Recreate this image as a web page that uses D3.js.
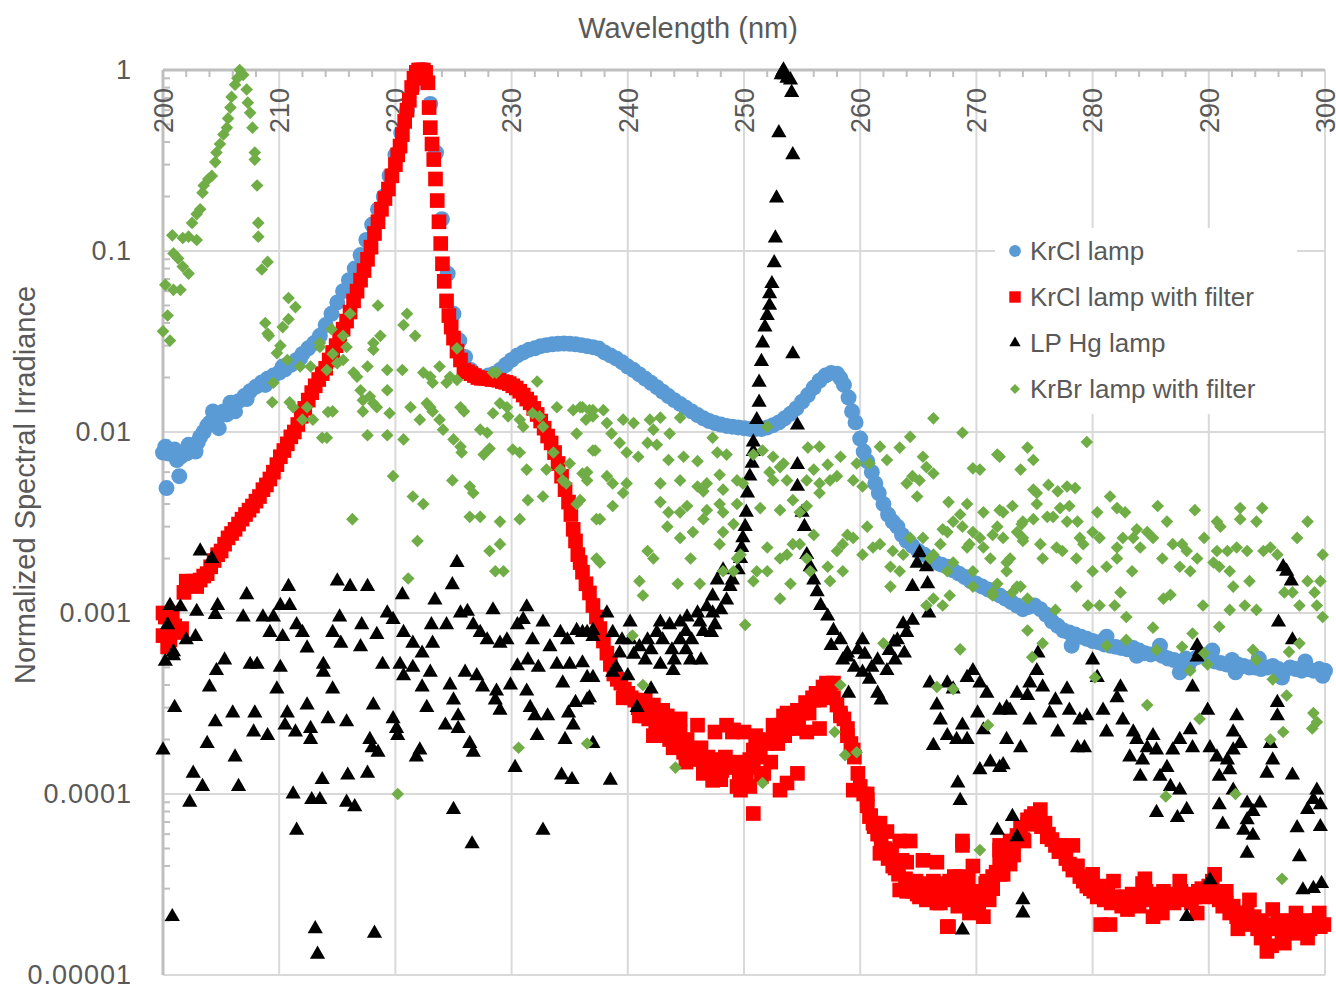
<!DOCTYPE html>
<html>
<head>
<meta charset="utf-8">
<script src="https://cdn.jsdelivr.net/npm/d3@7"></script>
<style>
body { margin: 0; background: #fff; }
svg { display: block; }
text { font-family: "Liberation Sans", Arial, sans-serif; fill: #595959; }
</style>
</head>
<body>
<svg id="chart" width="1336" height="988"></svg>
<script>
// [wavelength nm, normalized irradiance]
var krclLamp = [[200,7.7e-3],[200.2,8.3e-3],[200.3,4.9e-3],[200.5,7.6e-3],[201,8e-3],[201.2,7e-3],[201.4,5.7e-3],[201.5,7.3e-3],[202,7.6e-3],[202.2,8.5e-3],[202.5,8.3e-3],[202.8,7.8e-3],[203,8.8e-3],[203.2,9.4e-3],[203.5,1e-2],[203.8,1.08e-2],[204,1.12e-2],[204.3,1.3e-2],[204.5,1.22e-2],[204.8,1.05e-2],[205,1.25e-2],[205.2,1.3e-2],[205.5,1.25e-2],[205.8,1.45e-2],[206,1.38e-2],[206.2,1.3e-2],[206.5,1.48e-2],[207,1.58e-2],[207.2,1.52e-2],[207.5,1.68e-2],[208,1.78e-2],[208.5,1.88e-2],[208.8,1.82e-2],[209,1.97e-2],[209.5,2.05e-2],[210,2.13e-2],[210.3,2.3e-2],[210.5,2.22e-2],[211,2.35e-2],[211.5,2.5e-2],[211.8,2.55e-2],[212,2.7e-2],[212.5,2.9e-2],[213,3.1e-2],[213.5,3.4e-2],[214,3.9e-2],[214.5,4.5e-2],[215,5.2e-2],[215.5,6e-2],[216,6.9e-2],[216.5,8e-2],[217,9.5e-2],[217.5,0.115],[218,0.14],[218.5,0.17],[219,0.2],[219.5,0.26],[220,0.34],[220.5,0.45],[221,0.6],[221.5,0.8],[222,0.98],[222.3,1],[222.6,0.9],[223,0.65],[223.5,0.35],[224,0.15],[224.5,0.075],[225,0.045],[225.5,0.032],[226,0.026],[226.5,0.022],[227,0.0205],[227.5,0.02],[228,0.0205],[228.5,0.021],[229,0.022],[229.5,0.0235],[230,0.025],[230.5,0.0265],[231,0.0275],[231.5,0.0285],[232,0.029],[232.5,0.0298],[233,0.0302],[233.5,0.0305],[234,0.0307],[234.5,0.0308],[235,0.0307],[235.5,0.0305],[236,0.0302],[236.5,0.0298],[237,0.0294],[237.5,0.0289],[238,0.0275],[238.5,0.0265],[239,0.0255],[239.5,0.0243],[240,0.023],[240.5,0.022],[241,0.0208],[241.5,0.0197],[242,0.0187],[242.5,0.0177],[243,0.0167],[243.5,0.0158],[244,0.015],[244.5,0.0143],[245,0.0136],[245.5,0.013],[246,0.0124],[246.5,0.0119],[247,0.0115],[247.5,0.0112],[248,0.011],[248.5,0.0108],[249,0.0107],[249.5,0.0106],[250,0.0105],[250.5,0.0104],[251,0.0104],[251.5,0.0104],[252,0.0106],[252.5,0.0109],[253,0.0113],[253.5,0.0119],[254,0.0126],[254.5,0.0135],[255,0.0147],[255.5,0.016],[256,0.0176],[256.5,0.0192],[257,0.0205],[257.5,0.0212],[258,0.021],[258.3,0.0198],[258.6,0.0182],[259,0.0155],[259.3,0.013],[259.6,0.0113],[260,0.0092],[260.3,0.0078],[260.6,0.0069],[261,0.006],[261.3,0.0052],[261.6,0.0046],[262,0.004],[262.4,0.0035],[262.8,0.0032],[263.2,0.003],[263.6,0.0027],[264,0.0025],[264.5,0.00235],[265,0.0022],[265.5,0.0021],[266,0.002],[266.5,0.0019],[267,0.00185],[267.5,0.0018],[268,0.00172],[268.5,0.00165],[269,0.00158],[269.5,0.0015],[270,0.00145],[270.5,0.0014],[271,0.00135],[271.5,0.0013],[272,0.00125],[272.5,0.0012],[273,0.00115],[273.5,0.0011],[274,0.00105],[274.5,0.00108],[275,0.0011],[275.5,0.00105],[276,0.00098],[276.5,0.0009],[277,0.00085],[277.5,0.0008],[278,0.00078],[278.2,0.00066],[278.5,0.00076],[279,0.00074],[279.5,0.00072],[280,0.0007],[280.5,0.00069],[281,0.00067],[281.2,0.00074],[281.5,0.00066],[282,0.00065],[282.5,0.00064],[283,0.00063],[283.5,0.00064],[283.8,0.00058],[284,0.00062],[284.5,0.0006],[285,0.00059],[285.5,0.0006],[285.8,0.00066],[286,0.00058],[286.5,0.00056],[287,0.00055],[287.5,0.00047],[287.7,0.00054],[288,0.00056],[288.2,0.0005],[288.5,0.00055],[289,0.00057],[289.5,0.00058],[290,0.00055],[290.3,0.00062],[290.5,0.00054],[291,0.00053],[291.5,0.00052],[292,0.00055],[292.3,0.00047],[292.5,0.00052],[293,0.00051],[293.5,0.0005],[294,0.0005],[294.3,0.00056],[294.5,0.00049],[295,0.0005],[295.5,0.00051],[296,0.00049],[296.3,0.00044],[296.5,0.00048],[297,0.0005],[297.5,0.00049],[298,0.00048],[298.3,0.00054],[298.5,0.00049],[299,0.00048],[299.5,0.00049],[299.8,0.00045],[300,0.00048]];

var krclFiltered = [[200,1e-3],[200,7.5e-4],[200.2,9.5e-4],[200.4,6.5e-4],[200.6,7.1e-4],[200.8,1e-3],[201,8.5e-4],[201.3,7.8e-4],[201.6,8.2e-4],[201.8,1.3e-3],[202,1.5e-3],[202.3,1.45e-3],[202.6,1.5e-3],[202.9,1.4e-3],[203.2,1.52e-3],[203.5,1.6e-3],[203.8,1.65e-3],[204.1,1.8e-3],[204.4,1.95e-3],[204.7,2.1e-3],[205,2.2e-3],[205.3,2.4e-3],[205.6,2.6e-3],[205.9,2.75e-3],[206.2,2.9e-3],[206.5,3.1e-3],[206.8,3.3e-3],[207.1,3.5e-3],[207.4,3.7e-3],[207.7,3.9e-3],[208,4.15e-3],[208.3,4.4e-3],[208.6,4.8e-3],[208.9,5.1e-3],[209.2,5.5e-3],[209.5,6e-3],[209.8,6.6e-3],[210.1,7.3e-3],[210.4,7.9e-3],[210.7,8.6e-3],[211,9.4e-3],[211.3,1e-2],[211.6,1.1e-2],[211.9,1.22e-2],[212.2,1.35e-2],[212.5,1.5e-2],[212.8,1.65e-2],[213.1,1.8e-2],[213.4,1.95e-2],[213.7,2.1e-2],[214,2.25e-2],[214.3,2.5e-2],[214.6,2.75e-2],[214.9,3e-2],[215.2,3.3e-2],[215.5,3.7e-2],[215.8,4.1e-2],[216.1,4.6e-2],[216.4,5.3e-2],[216.7,6e-2],[217,6.9e-2],[217.3,7.8e-2],[217.6,9e-2],[217.9,0.105],[218.2,0.125],[218.5,0.145],[218.8,0.17],[219.1,0.195],[219.4,0.22],[219.7,0.26],[220,0.3],[220.2,0.34],[220.4,0.38],[220.6,0.44],[220.8,0.52],[221,0.6],[221.2,0.68],[221.4,0.8],[221.6,0.9],[221.8,0.97],[222,1],[222.2,1],[222.4,1],[222.6,0.97],[222.8,0.85],[222.9,0.62],[223,0.48],[223.15,0.39],[223.3,0.32],[223.45,0.25],[223.6,0.19],[223.75,0.145],[223.9,0.11],[224.05,0.085],[224.2,0.068],[224.4,0.053],[224.6,0.044],[224.8,0.038],[225,0.033],[225.3,0.028],[225.6,0.025],[225.9,0.022],[226.2,0.0215],[226.5,0.021],[226.8,0.0205],[227.1,0.02],[227.4,0.0198],[227.7,0.0198],[228,0.0197],[228.3,0.0195],[228.6,0.0195],[228.9,0.0193],[229.2,0.019],[229.5,0.0188],[229.8,0.0185],[230.1,0.018],[230.4,0.0175],[230.7,0.0168],[231,0.016],[231.3,0.0152],[231.6,0.0145],[231.9,0.0135],[232.2,0.0125],[232.5,0.0115],[232.8,0.0105],[233.1,0.0095],[233.4,0.0087],[233.7,0.0077],[234,0.0067],[234.3,0.0057],[234.6,0.0048],[234.9,0.0041],[235.1,0.0035],[235.3,0.0029],[235.5,0.0025],[235.7,0.0021],[235.9,0.0019],[236.1,0.00168],[236.4,0.00145],[236.7,0.00129],[237,0.0011],[237.3,0.00095],[237.6,0.00082],[237.9,0.0007],[238.2,0.0006],[238.5,0.00052],[238.8,0.00046],[239.1,0.00043],[239.4,0.00041],[239.7,0.00038],[240,0.00036],[240.3,0.00034],[240.6,0.00033],[240.9,0.0003],[241.2,0.00028],[241.5,0.00027],[241.8,2.6e-4],[242.1,2.9e-4],[242.4,2.3e-4],[242.7,2.5e-4],[243,2.1e-4],[243.3,2.4e-4],[243.6,2e-4],[243.9,1.8e-4],[244.2,2.2e-4],[244.5,1.9e-4],[244.8,1.7e-4],[245.1,2e-4],[245.4,1.6e-4],[245.7,1.75e-4],[246,1.55e-4],[246.3,1.8e-4],[246.6,1.45e-4],[246.9,1.6e-4],[247.2,1.4e-4],[247.5,1.55e-4],[247.8,1.5e-4],[248.1,1.35e-4],[248.4,1.6e-4],[248.7,1.4e-4],[249,2.2e-4],[249.3,1.5e-4],[249.6,1.3e-4],[249.9,1.45e-4],[250.2,1.25e-4],[250.5,1.55e-4],[250.8,7.8e-5],[250.8,1.4e-4],[251.1,1.6e-4],[251.4,1.75e-4],[251.7,1.3e-4],[252,1.9e-4],[252.3,1.5e-4],[252.6,2.2e-4],[252.9,1.9e-4],[253.2,2.4e-4],[253.5,2.1e-4],[253.8,2.3e-4],[254.1,2.6e-4],[254.4,2.3e-4],[254.7,2.5e-4],[255,2.8e-4],[255.3,3.2e-4],[255.6,2.8e-4],[255.9,3.4e-4],[256.2,3.6e-4],[256.5,3.3e-4],[256.8,3.9e-4],[257.1,4.1e-4],[257.4,3.6e-4],[257.7,3.4e-4],[258,3.1e-4],[258.3,2.8e-4],[258.6,2.6e-4],[258.9,2.3e-4],[259.2,1.9e-4],[259.5,1.6e-4],[259.8,1.3e-4],[260,1.1e-4],[260.3,1e-4],[260.6,8.6e-5],[260.9,7.6e-5],[261.2,6.6e-5],[261.5,6e-5],[261.8,5.3e-5],[262.1,5e-5],[262.4,4.4e-5],[262.7,4.6e-5],[263,3.9e-5],[263.3,3.6e-5],[263.6,4.3e-5],[263.9,3.4e-5],[264.2,3.1e-5],[264.3,5.5e-5],[264.5,2.9e-5],[264.8,3.3e-5],[265.1,2.7e-5],[265.4,3e-5],[265.7,2.6e-5],[266,2.9e-5],[266.3,3.3e-5],[266.6,2.5e-5],[266.9,3.1e-5],[267.2,2.7e-5],[267.5,1.85e-5],[267.5,3.2e-5],[267.8,2.6e-5],[268.1,3.5e-5],[268.4,2.4e-5],[268.7,3e-5],[268.8,5.5e-5],[269,2.7e-5],[269.3,3.4e-5],[269.6,2.5e-5],[269.9,2.9e-5],[270.2,2.3e-5],[270.5,2.7e-5],[270.8,3.2e-5],[271.1,2.6e-5],[271.4,3e-5],[271.7,3.7e-5],[272,4.3e-5],[272,4.9e-5],[272.3,3.6e-5],[272.6,4.8e-5],[272.9,5.5e-5],[273.2,4.6e-5],[273.5,5.9e-5],[273.8,6.5e-5],[274.1,5.5e-5],[274.4,6.8e-5],[274.7,7.5e-5],[275,7.8e-5],[275.3,7.2e-5],[275.6,6.6e-5],[275.9,6.9e-5],[276.2,6e-5],[276.5,5.6e-5],[276.8,5.2e-5],[277.1,4.8e-5],[277.4,5e-5],[277.7,4.4e-5],[278,4.1e-5],[278.3,3.8e-5],[278.6,4e-5],[278.9,3.5e-5],[279.2,3.3e-5],[279.5,3.1e-5],[279.8,3e-5],[280.1,2.9e-5],[280.4,2.7e-5],[280.7,1.9e-5],[280.7,2.8e-5],[281,2.6e-5],[281.3,2.8e-5],[281.6,2.5e-5],[281.9,2.7e-5],[282.2,2.6e-5],[282.5,2.4e-5],[282.8,2.7e-5],[283.1,2.5e-5],[283.4,2.8e-5],[283.7,2.6e-5],[284,2.4e-5],[284.3,2.7e-5],[284.6,2.9e-5],[284.9,2.6e-5],[285.2,2.8e-5],[285.5,2.4e-5],[285.8,2.7e-5],[286.1,2.9e-5],[286.4,2.6e-5],[286.7,2.8e-5],[287,2.5e-5],[287.3,2.7e-5],[287.6,2.9e-5],[287.9,2.6e-5],[288.2,2.8e-5],[288.5,2.5e-5],[288.8,2.7e-5],[289.1,2.9e-5],[289.4,3e-5],[289.7,2.7e-5],[290,3.1e-5],[290.3,3.3e-5],[290.6,2.8e-5],[290.9,2.6e-5],[291.2,2.4e-5],[291.5,2.5e-5],[291.8,2.2e-5],[292.1,2.4e-5],[292.4,2.1e-5],[292.7,2.2e-5],[293,2e-5],[293.3,2.2e-5],[293.6,1.9e-5],[293.9,2.1e-5],[294.2,1.8e-5],[294.5,2e-5],[294.8,1.7e-5],[295.1,1.9e-5],[295.4,1.45e-5],[295.7,1.8e-5],[296,2e-5],[296.3,1.7e-5],[296.6,1.9e-5],[296.9,1.8e-5],[297.2,2e-5],[297.5,1.7e-5],[297.8,1.9e-5],[298.1,1.8e-5],[298.4,2e-5],[298.7,1.8e-5],[299,1.9e-5],[299.3,2e-5],[299.6,1.85e-5],[299.9,1.9e-5],
  [239.6,3.4e-4],[241,2.7e-4],[241.5,3.3e-4],[242.2,3.1e-4],[242.2,2.1e-4],[243,2.9e-4],[243.4,2.7e-4],[244.5,2.6e-4],[244.5,2.2e-4],[245,1.5e-4],[245.4,1.75e-4],[246,2.4e-4],[246.5,1.3e-4],[246.8,1.36e-4],[247.3,1.19e-4],[247.5,2.2e-4],[248,1.2e-4],[248.5,2.4e-4],[249.1,2.26e-4],[249.4,1.1e-4],[249.7,1.05e-4],[250,2.2e-4],[250.5,1.1e-4],[250.8,1.75e-4],[251,2.1e-4],[251.5,1.25e-4],[252,2e-4],[252.5,2.4e-4],[253.1,1.05e-4],[253.4,2.7e-4],[253.7,1.15e-4],[253.7,2.8e-4],[254.6,1.3e-4],[254.6,2.9e-4],[255.4,2.2e-4],[256,3.3e-4],[256.5,2.3e-4],[257.7,4.1e-4],[258.3,2.7e-4],[258.9,2.1e-4],[259.4,1.75e-4],[259.4,1.05e-4],[260.6,1e-4],[260.6,9.3e-5],[260.8,7.5e-5],[261.1,6.9e-5],[261.7,6.9e-5],[261.7,4.7e-5],[262.3,6.2e-5],[262.3,4.9e-5],[262.8,4e-5],[263.4,5.5e-5],[263.4,2.95e-5],[264,4.2e-5],[264,2.9e-5],[264.5,3.2e-5],[264.9,2.8e-5],[265.4,4.3e-5],[266,3.2e-5],[266.6,4.2e-5],[266.6,2.6e-5],[266.9,2.5e-5],[267.6,1.85e-5],[267.7,3.3e-5],[268,2.7e-5],[268.6,3.5e-5],[268.8,5.2e-5],[269.4,2.2e-5],[269.4,2.5e-5],[269.7,4e-5],[270.6,2.1e-5],[270.9,3.3e-5],[271.4,3.5e-5],[272,5.2e-5],[272,3.6e-5],[272.9,4.1e-5],[273.1,4.9e-5],[273.5,5.6e-5],[274,5.6e-5],[274.4,7.2e-5],[275.5,8.2e-5],[276.1,5.8e-5],[277.2,5.2e-5],[278.3,5.2e-5],[278.7,4e-5],[280,3.6e-5],[280.6,3.1e-5],[281.5,1.9e-5],[281.8,3.3e-5],[282.4,2.7e-5],[283,2.3e-5],[284.3,3.2e-5],[284.5,3.4e-5],[285.2,2.1e-5],[286,2.2e-5],[287.5,3.3e-5],[289,2.2e-5],[290.5,3.6e-5],[291.5,2.9e-5],[292.5,1.8e-5],[293.5,2.6e-5],[294.5,1.6e-5],[295,1.35e-5],[295.5,2.3e-5],[296.5,1.5e-5],[297.5,2.2e-5],[298.5,1.6e-5],[299.5,2.2e-5]];

var lpHgLamp = [[200,1.75e-4],[200.2,5.4e-4],[200.4,8.6e-4],[200.6,1.1e-3],[200.8,2.1e-5],[200.9,6.1e-4],[200.9,5.8e-4],[201,3e-4],[201.5,1.08e-3],[202,7.1e-4],[202.3,9e-5],[202.6,1.3e-4],[202.8,7.4e-4],[202.9,1.02e-3],[203.2,2.2e-3],[203.4,1.1e-4],[203.8,1.9e-4],[204,3.9e-4],[204.2,2e-3],[204.5,9.8e-4],[204.5,2.5e-4],[204.6,4.8e-4],[204.7,1.1e-3],[205.3,5.5e-4],[206,2.8e-4],[206.2,1.6e-4],[206.5,1.1e-4],[206.9,9.5e-4],[207.2,1.26e-3],[207.5,5.2e-4],[207.8,2.2e-4],[207.9,2.8e-4],[208.1,5.2e-4],[208.6,9.5e-4],[209,2.1e-4],[209.2,7.8e-4],[209.5,9.5e-4],[209.8,3.8e-4],[210.1,1.1e-3],[210.1,5e-4],[210.3,7.4e-4],[210.5,2.4e-4],[210.7,2.8e-4],[210.8,1.4e-3],[210.9,1.1e-3],[211.2,1e-4],[211.4,2.2e-4],[211.5,8.6e-4],[211.5,6.3e-5],[212,7.8e-4],[212.4,6.4e-4],[212.4,3.1e-4],[212.7,2.3e-4],[212.7,2e-4],[212.8,9.3e-5],[213.1,1.8e-5],[213.3,1.3e-5],[213.5,9.3e-5],[213.7,1.2e-4],[213.8,5.2e-4],[213.8,4.7e-4],[214.2,2.6e-4],[214.6,7.8e-4],[214.6,3.8e-4],[215,1.5e-3],[215.2,9.5e-4],[215.3,6.8e-4],[215.8,2.5e-4],[215.8,9e-5],[215.9,1.27e-4],[216.1,1.4e-3],[216.5,8.5e-5],[217,6.5e-4],[217.1,8.6e-4],[217.6,1.4e-3],[217.6,1.3e-4],[217.8,2e-4],[218,1.8e-4],[218.1,3.1e-4],[218.2,1.7e-5],[218.4,7.6e-4],[218.5,1.7e-4],[218.9,5.2e-4],[219.3,1e-3],[219.8,9.2e-4],[219.8,2.6e-4],[220.1,2.3e-4],[220.2,2.1e-4],[220.4,5.2e-4],[220.6,1.26e-3],[220.7,7.8e-4],[220.7,4.5e-4],[221.5,6.8e-4],[221.5,5e-4],[221.8,1.6e-4],[222.1,1.75e-4],[222.3,6e-4],[222.3,3.9e-4],[222.7,3e-4],[223,4.7e-4],[223.1,8.6e-4],[223.2,6.8e-4],[223.4,1.18e-3],[224.3,2.4e-4],[224.4,8.6e-4],[224.7,4e-4],[224.9,1.43e-3],[225,3.3e-4],[225,8.2e-5],[225.3,1.9e-3],[225.4,2.7e-4],[225.4,2.3e-4],[225.6,1e-3],[226,4.7e-4],[226.2,1.02e-3],[226.4,1.9e-4],[226.6,5.3e-5],[226.7,8.6e-4],[226.7,1.7e-4],[227,4.5e-4],[227.3,7.8e-4],[227.5,3.9e-4],[227.9,7.1e-4],[228.4,1.04e-3],[228.6,3.3e-4],[228.7,3.7e-4],[229,6.8e-4],[229,2.9e-4],[229.6,7.1e-4],[229.9,4e-4],[230.3,1.4e-4],[230.5,8.6e-4],[230.5,5.1e-4],[231,9.2e-4],[231.3,1.08e-3],[231.3,3.7e-4],[231.4,5.5e-4],[231.6,3e-4],[231.8,7.1e-4],[232,2.7e-4],[232.2,2.1e-4],[232.3,5e-4],[232.7,8.9e-4],[232.7,6.3e-5],[233.1,2.7e-4],[233.3,6.5e-4],[233.9,5.2e-4],[234.2,7.8e-4],[234.3,1.27e-4],[234.4,4.1e-4],[234.6,2e-4],[234.8,7.1e-4],[234.9,2.8e-4],[235,5.2e-4],[235.2,1.2e-4],[235.3,2.4e-4],[235.5,3.2e-4],[235.6,8e-4],[236.1,5.3e-4],[236.1,7.8e-4],[236.5,7.8e-4],[236.5,4.4e-4],[236.5,3.3e-4],[236.7,3.4e-4],[237,7.4e-4],[237,8e-4],[237,4.4e-4],[237,1.9e-4],[238.2,1e-3],[238.5,1.19e-4],[238.7,7.8e-4],[238.7,4.7e-4],[239,5e-4],[239.3,6e-4],[239.5,7.1e-4],[240,4.5e-4],[240.2,8.9e-4],[240.2,7.1e-4],[240.5,5.9e-4],[240.8,3e-4],[241,6.5e-4],[241.5,5.5e-4],[241.7,7.1e-4],[242,6.25e-4],[242,3.8e-4],[242.5,7.8e-4],[242.8,8.9e-4],[242.8,5.2e-4],[243,7.1e-4],[243.6,8.6e-4],[243.8,6.25e-4],[243.9,4.8e-4],[244,5.5e-4],[244.5,8.9e-4],[244.5,7.1e-4],[245,7.9e-4],[245,6.25e-4],[245.1,9.5e-4],[245.4,5.5e-4],[245.5,7.1e-4],[246,1e-3],[246.2,8.9e-4],[246.3,5.5e-4],[246.5,7.9e-4],[246.8,1.08e-3],[247.2,7.8e-4],[247.3,1e-3],[247.3,1.24e-3],[247.5,8.6e-4],[247.7,1.52e-3],[248,1.04e-3],[248.2,1.73e-3],[248.5,1.18e-3],[248.8,1.4e-3],[249,1.52e-3],[249.5,1.73e-3],[249.7,2e-3],[249.8,2.3e-3],[249.9,2.6e-3],[250.1,3e-3],[250.2,3.6e-3],[250.3,4.6e-3],[250.5,5.7e-3],[250.7,6.7e-3],[250.8,7.8e-3],[250.8,8.8e-3],[251.1,1.17e-2],[251.3,1.46e-2],[251.3,1.88e-2],[251.5,2.45e-2],[251.6,3.1e-2],[251.8,3.8e-2],[252,4.4e-2],[252.2,5e-2],[252.2,5.8e-2],[252.4,6.6e-2],[252.6,8.6e-2],[252.7,0.118],[252.8,0.196],[253,0.45],[253.2,0.94],[253.3,0.97],[253.4,1],[253.5,0.94],[253.7,0.9],[254,0.88],[254.1,0.75],[254.2,0.34],[254.2,2.7e-2],[254.6,1.09e-2],[254.6,6.6e-3],[254.6,5e-3],[255,3.6e-3],[255.2,3e-3],[255.4,2.1e-3],[255.7,1.8e-3],[256,1.52e-3],[256.3,1.31e-3],[256.6,1.1e-3],[257.2,9.6e-4],[257.5,6.6e-4],[257.7,8e-4],[258.3,7.1e-4],[258.5,5.5e-4],[258.9,6e-4],[258.9,5.7e-4],[259,3.6e-4],[259.5,5e-4],[259.8,6.25e-4],[260.2,4.7e-4],[260.2,7.1e-4],[260.4,5.9e-4],[260.8,4.3e-4],[261,5e-4],[261.5,3.6e-4],[261.5,5.5e-4],[261.8,3.3e-4],[262.3,4.8e-4],[262.5,6.2e-4],[262.9,6.9e-4],[263,5.5e-4],[263.2,7.1e-4],[263.7,8.7e-4],[263.8,6e-4],[264,7.8e-4],[264.5,9.1e-4],[264.5,1.4e-3],[264.9,1.88e-3],[265.1,2.15e-3],[265.7,1.8e-3],[265.8,1.45e-3],[265.9,1e-3],[266,4.1e-4],[266.3,1.85e-4],[266.6,3.1e-4],[266.9,2.56e-4],[267.5,4.1e-4],[267.5,2.1e-4],[268,3.8e-4],[268.3,2e-4],[268.4,1.15e-4],[268.6,9.2e-5],[268.8,2.4e-4],[268.8,1.77e-5],[269.2,4.4e-4],[269.2,2e-4],[269.7,4.8e-4],[270.1,2.8e-4],[270.3,4.1e-4],[270.3,1.36e-4],[270.6,2.26e-4],[270.9,3.6e-4],[271.2,1.5e-4],[271.8,6.3e-5],[272,2.9e-4],[272,1.4e-4],[272.3,1.45e-4],[272.6,2e-4],[272.6,3e-4],[272.9,2.9e-4],[273.1,7.5e-5],[273.5,3.6e-4],[273.5,5.8e-5],[273.8,1.8e-4],[274,2.6e-5],[274,2.2e-5],[274.4,3.5e-4],[274.6,4.1e-4],[274.6,2.56e-4],[275.2,4.8e-4],[275.3,6e-4],[275.7,3.9e-4],[276.3,2.8e-4],[276.8,3.3e-4],[277,2.2e-4],[277.8,3.8e-4],[278,2.9e-4],[278.7,1.8e-4],[278.9,2.56e-4],[279.3,1.8e-4],[279.5,2.7e-4],[280,5.5e-4],[280.4,4.4e-4],[280.9,2.9e-4],[281.2,2.2e-4],[282.1,3.4e-4],[282.4,3.9e-4],[282.6,2.56e-4],[283.2,1.6e-4],[283.5,2.2e-4],[283.8,2e-4],[284.1,1.25e-4],[284.3,1.54e-4],[284.7,1.8e-4],[285.2,2.1e-4],[285.5,1.75e-4],[285.5,7.9e-5],[285.8,1.25e-4],[286.4,1.4e-4],[286.7,1.1e-4],[286.9,1.75e-4],[287.3,7.4e-5],[287.5,1.05e-4],[287.5,2e-4],[288.1,8.2e-5],[288.1,2.1e-5],[288.4,2.26e-4],[288.6,1.8e-4],[288.6,3.9e-4],[289,5.7e-4],[289,6.6e-4],[289.2,6.1e-4],[289.9,2.9e-4],[290.1,1.8e-4],[290.1,3.35e-5],[290.7,1.6e-4],[290.9,1.25e-4],[290.9,8.7e-5],[291.2,6.8e-5],[291.6,1.54e-4],[291.8,1.36e-4],[292.1,1.75e-4],[292.1,1.05e-4],[292.1,2.2e-4],[292.4,2.7e-4],[292.7,1.9e-4],[293,6.3e-5],[293.3,8.9e-5],[293.3,7.2e-5],[293.3,4.7e-5],[293.8,8e-5],[293.8,5.9e-5],[294.4,8.9e-5],[295,1.3e-4],[295.3,1.9e-4],[295.5,1.54e-4],[295.9,2.7e-4],[295.9,3.2e-4],[296,8.9e-4],[296.4,1.8e-3],[296.7,1.7e-3],[297.1,1.5e-3],[297.2,7.1e-4],[297.2,1.27e-4],[297.6,6.5e-5],[297.8,4.5e-5],[298.1,2.95e-5],[298.5,8.2e-5],[299,3e-5],[299,9.3e-5],[299.3,1.05e-4],[299.6,8.7e-5],[299.6,6.6e-5],[299.7,3.2e-5]];

var krbrFiltered = [[200,3.6e-2],[200.2,6.5e-2],[200.4,4.4e-2],[200.6,3.2e-2],[200.8,0.122],[200.9,9.7e-2],[200.9,6.1e-2],[201.3,9.1e-2],[201.5,6.1e-2],[201.7,0.118],[201.7,8.2e-2],[202.2,0.12],[202.2,7.5e-2],[202.5,0.143],[202.9,0.16],[202.9,0.115],[203.2,0.17],[203.4,0.21],[203.5,0.23],[203.9,0.25],[204.2,0.26],[204.5,0.31],[204.6,0.35],[204.9,0.39],[205.2,0.44],[205.5,0.48],[205.6,0.54],[205.8,0.62],[205.9,0.71],[206.2,0.83],[206.4,0.9],[206.6,1],[206.9,0.94],[207.2,0.78],[207.3,0.66],[207.5,0.58],[207.7,0.48],[207.9,0.35],[207.9,0.32],[208.1,0.23],[208.2,0.143],[208.2,0.12],[208.5,7.9e-2],[208.8,4e-2],[209,8.7e-2],[209,3.5e-2],[209.1,3.4e-2],[209.4,1.46e-2],[209.5,1.87e-2],[209.8,2.73e-2],[210.1,3e-2],[210.3,3.8e-2],[210.7,2.5e-2],[210.8,5.5e-2],[210.8,4.2e-2],[210.9,1.46e-2],[211.2,1.37e-2],[211.4,4.9e-2],[211.8,2.3e-2],[212,1.17e-2],[212.4,1.37e-2],[212.7,2.3e-2],[212.9,1.17e-2],[213.5,3.1e-2],[213.5,2.95e-2],[213.7,9.3e-3],[214.1,9.3e-3],[214.1,2.2e-2],[214.2,1.29e-2],[214.5,3.7e-2],[214.6,2.7e-2],[214.6,1.3e-2],[215,2.4e-2],[215.5,3.4e-2],[215.5,2.5e-2],[215.8,2.95e-2],[216.1,4.5e-2],[216.3,3.3e-3],[216.4,2.13e-2],[216.7,2.02e-2],[217,1.7e-2],[217.2,1.5e-2],[217.2,1.3e-2],[217.6,2.3e-2],[217.6,9.6e-3],[217.8,1.57e-2],[218.1,3.1e-2],[218.1,2.85e-2],[218.1,1.44e-2],[218.4,1.37e-2],[218.5,5e-2],[218.7,3.4e-2],[219.3,2.2e-2],[219.3,1.7e-2],[219.3,9.6e-3],[219.5,1.27e-2],[219.8,5.7e-3],[220.2,1e-4],[220.6,2.2e-2],[220.7,3.9e-2],[220.7,9.1e-3],[221,4.5e-2],[221.1,1.55e-3],[221.3,1.37e-2],[221.5,4.4e-3],[221.7,3.4e-2],[221.9,2.5e-3],[222.1,1.17e-2],[222.4,2.13e-2],[222.4,4e-3],[222.7,1.44e-2],[223,2.02e-2],[223,1.37e-2],[223.2,1.87e-2],[223.2,1.3e-2],[223.8,2.3e-2],[223.8,1.17e-2],[224.1,1.03e-2],[224.4,1.87e-2],[224.7,2.02e-2],[224.9,5.4e-3],[225,9.1e-3],[225.3,2.9e-2],[225.3,1.94e-2],[225.6,1.37e-2],[225.6,8.3e-3],[225.7,7.7e-3],[225.9,1.3e-2],[226.4,5e-3],[226.4,3.4e-3],[226.7,4.6e-3],[227.3,1.03e-2],[227.3,3.4e-3],[227.6,7.5e-3],[227.9,9.9e-3],[228.1,8.1e-3],[228.1,2.2e-3],[228.4,2.13e-2],[228.4,1.27e-2],[228.6,1.7e-3],[228.7,2.13e-2],[229,1.44e-2],[229,3.2e-3],[229,2.4e-3],[229.3,1.7e-3],[229.6,1.37e-2],[229.7,1.22e-2],[230.1,8e-3],[230.6,1.8e-4],[230.7,1.17e-2],[230.7,7.7e-3],[230.7,3.3e-3],[231,1.07e-2],[231.3,6.2e-3],[231.4,4.2e-3],[231.8,1.27e-2],[232.2,1.9e-2],[232.4,1.22e-2],[232.7,1.07e-2],[232.7,4.4e-3],[233,6.2e-3],[233.6,7.7e-3],[233.9,1.37e-2],[234.2,6.2e-3],[234.4,5.4e-3],[234.7,5.2e-3],[235,6.7e-3],[235.3,1.32e-2],[235.6,9.8e-3],[235.6,4e-3],[235.9,1.37e-2],[235.9,4.2e-3],[236.1,1.37e-2],[236.1,5.9e-3],[236.4,1.17e-2],[236.5,6e-3],[236.5,5.4e-3],[236.5,1.9e-4],[236.7,1.32e-2],[237,1.32e-2],[237,1.22e-2],[237,7.9e-3],[237.2,7.9e-3],[237.3,3.3e-3],[237.3,2e-3],[237.6,3.3e-3],[237.6,1.9e-3],[237.9,1.32e-2],[238.2,1.12e-2],[238.2,5.7e-3],[238.6,9.8e-3],[238.7,5.2e-3],[238.7,3.9e-3],[239.3,8.7e-3],[239.6,1.17e-2],[239.6,4.6e-3],[239.9,7.7e-3],[239.9,5.2e-3],[240.4,7.5e-4],[240.5,1.12e-2],[240.9,7.3e-3],[241,1.5e-3],[241.3,1.25e-3],[241.3,4e-4],[241.7,8.7e-3],[241.7,2.2e-3],[241.9,1.17e-2],[242.2,1.03e-2],[242.2,2e-3],[242.5,8.5e-3],[242.8,1.2e-2],[242.8,5.2e-3],[242.8,4.1e-3],[243.4,3e-3],[243.5,7e-3],[243.5,3.6e-3],[243.6,9.8e-3],[244.1,1.4e-4],[244.3,1.45e-3],[244.5,1.2e-2],[244.5,5.4e-3],[244.5,3.6e-3],[244.5,2.6e-3],[244.8,7.3e-3],[245.1,3.9e-3],[245.4,2e-3],[245.6,2.8e-3],[246,6.9e-3],[246,5e-3],[246.2,1.45e-3],[246.5,4.7e-3],[246.5,3.3e-3],[246.8,5.2e-3],[246.8,3.7e-3],[247.3,9.3e-3],[247.7,7.7e-3],[247.9,5.8e-3],[247.9,4e-3],[247.9,2.4e-3],[248.2,4.8e-3],[248.2,3.6e-3],[248.2,2.8e-3],[248.2,1.7e-3],[248.5,7.5e-3],[249.1,3.1e-3],[249.1,1.7e-3],[249.4,5.4e-3],[249.4,4e-3],[249.4,2e-3],[249.7,2.1e-3],[249.9,5.2e-3],[250.1,8.6e-4],[250.8,7.5e-3],[250.8,1.5e-3],[251.1,1.7e-3],[251.4,3.8e-3],[251.6,7.9e-3],[251.6,1.15e-4],[252,1.07e-2],[252,2.3e-3],[252,1.7e-3],[252.2,6e-3],[252.5,7.3e-3],[252.5,5.4e-3],[253.1,6.4e-3],[253.1,3.7e-3],[253.1,2e-3],[253.1,1.2e-3],[253.4,6.7e-3],[253.7,5.4e-3],[253.7,2.1e-3],[254,1.45e-3],[254.2,4.2e-3],[254.2,2.4e-3],[254.8,3.6e-3],[254.8,2.4e-3],[255.4,5.4e-3],[255.4,3.9e-3],[255.4,2e-3],[255.5,8.2e-3],[255.7,1.7e-3],[256,6.2e-3],[256,2.7e-3],[256.5,8.3e-3],[256.5,5.2e-3],[256.5,4.6e-3],[257.2,6.6e-3],[257.2,1.8e-3],[257.4,5.4e-3],[257.4,1.5e-3],[257.8,2.2e-4],[258,5.7e-3],[258,2.2e-3],[258.3,7.3e-3],[258.3,4e-4],[258.5,2.4e-3],[258.5,1.7e-3],[258.7,1.64e-4],[258.9,2.7e-3],[259.4,5.4e-3],[259.4,2.6e-3],[259.7,6.7e-3],[259.7,1.7e-4],[260.2,5e-3],[260.2,2.1e-3],[260.6,3e-3],[260.8,6.7e-3],[261.1,2.3e-3],[261.7,8.3e-3],[261.7,2.4e-3],[262,6.8e-4],[262.3,7e-3],[262.6,1.8e-3],[262.6,1.4e-3],[262.8,2.2e-3],[263.4,8.2e-3],[263.4,1.7e-3],[263.7,2.1e-3],[264,5.2e-3],[264.3,9.4e-3],[264.3,2.6e-3],[264.5,5.7e-3],[264.9,4.4e-3],[265.1,5.4e-3],[265.4,7.3e-3],[265.4,2.6e-3],[265.7,6.4e-3],[265.7,1.1e-3],[266,2e-3],[266.3,1.19e-2],[266.3,5.9e-3],[266.3,2.1e-3],[266.3,1.2e-3],[266.6,3.9e-4],[266.9,2.4e-3],[267.1,2.9e-3],[267.1,1.1e-3],[267.5,2.8e-3],[267.5,1.7e-3],[267.6,4.1e-3],[267.7,1.25e-3],[268,3.2e-3],[268,1.9e-3],[268,3.8e-4],[268.6,3.5e-3],[268.6,6.3e-4],[268.8,9.9e-3],[268.8,3e-3],[269.2,4e-3],[269.2,2.3e-3],[269.4,2.4e-3],[269.7,6.3e-3],[269.7,2.8e-3],[269.7,1.7e-3],[269.7,1.4e-3],[270.3,6.2e-3],[270.3,2.6e-3],[270.3,4.9e-5],[270.6,3.6e-3],[270.6,2.3e-3],[271,2.4e-4],[271.2,2e-3],[271.4,2.7e-3],[271.4,1.3e-3],[271.4,1.25e-3],[271.8,7.5e-3],[271.8,3e-3],[271.8,1.45e-3],[272,7.3e-3],[272,3.7e-3],[272.3,3.6e-3],[272.3,2.6e-3],[272.6,1.9e-3],[272.6,1.7e-3],[272.9,2e-3],[273.1,3.9e-3],[273.1,1.3e-3],[273.5,2.8e-3],[273.5,1.4e-3],[273.8,6.2e-3],[273.8,1.4e-3],[273.9,3.1e-3],[274,3.2e-3],[274,2.6e-3],[274,2.5e-3],[274.4,8.2e-3],[274.4,1.2e-3],[274.4,8e-4],[274.8,5.7e-4],[274.9,7e-3],[274.9,4.8e-3],[274.9,3.3e-3],[275.2,4e-3],[275.2,4.6e-3],[275.5,2.4e-3],[275.7,2e-3],[275.7,6.8e-4],[276.1,3.4e-3],[276.2,5.1e-3],[276.6,3.4e-3],[276.8,1.04e-3],[276.9,2.3e-3],[277,4.7e-3],[277.2,3.8e-3],[277.4,2.2e-3],[277.8,5e-3],[277.8,3.2e-3],[278,3.9e-3],[278.5,4.9e-3],[278.6,2e-3],[278.6,1.4e-3],[278.7,3.2e-3],[278.9,2.6e-3],[279.2,2.4e-3],[279.5,8.8e-3],[279.6,1.1e-3],[280,2.8e-3],[280,1.7e-3],[280.2,4.4e-4],[280.4,3.6e-3],[280.6,2.6e-3],[280.6,1.1e-3],[281.2,1.8e-3],[281.2,6.6e-4],[281.5,4.4e-3],[281.9,1.1e-3],[282.1,3.8e-3],[282.1,2.3e-3],[282.1,2e-3],[282.4,1.3e-3],[282.6,2.6e-3],[282.8,3.6e-3],[282.9,9.5e-4],[282.9,7.1e-4],[283.4,1.7e-3],[283.5,2.6e-3],[283.8,2.9e-3],[284.1,2.3e-3],[284.7,2.8e-3],[284.7,3.1e-4],[285.2,2.6e-3],[285.2,8.3e-4],[285.5,6.25e-4],[285.6,3.9e-3],[286,2e-3],[286.1,1.2e-3],[286.3,9.7e-5],[286.4,3.2e-3],[286.7,1.26e-3],[286.9,2.4e-3],[287.5,1.8e-3],[287.7,2.4e-3],[287.7,6.5e-4],[288.1,2.2e-3],[288.4,1.7e-3],[288.4,4.8e-4],[288.6,7.7e-4],[288.8,3.7e-3],[289,2e-3],[289.2,2.6e-4],[289.5,1.1e-3],[289.6,2.6e-3],[289.6,6e-4],[289.9,5.2e-4],[290.4,1.9e-3],[290.7,3.2e-3],[290.7,2.2e-3],[290.9,1.8e-3],[290.9,8.4e-4],[291,3e-3],[291.6,2.2e-3],[291.8,1.7e-3],[291.8,1.04e-3],[292.1,1.4e-3],[292.3,1e-4],[292.4,2.3e-3],[292.7,3.8e-3],[292.7,3.3e-3],[293.1,1.1e-3],[293.3,2.2e-3],[293.5,1.5e-3],[293.8,6.25e-4],[294.1,3.2e-3],[294.1,1.04e-3],[294.1,5.5e-4],[294.6,3.8e-3],[294.7,2.2e-3],[295.3,2.3e-3],[295.3,2e-4],[295.5,4.3e-4],[295.9,2.1e-3],[296.3,3.4e-5],[296.4,2.2e-4],[296.5,1.3e-3],[296.7,3.5e-4],[296.9,6.1e-4],[297.2,1.3e-3],[297.6,2.6e-3],[297.8,1.1e-3],[297.8,6.8e-4],[298.5,3.2e-3],[298.5,1.5e-3],[298.9,2.3e-4],[299,2.8e-4],[299.1,1.3e-3],[299.3,1.1e-3],[299.3,2.5e-4],[299.6,1.5e-3],[299.8,2.1e-3],[299.8,9.5e-4]];

var seriesNames = ["KrCl lamp", "KrCl lamp with filter", "LP Hg lamp", "KrBr lamp with filter"];
var xTicks = [200, 210, 220, 230, 240, 250, 260, 270, 280, 290, 300];
var yTicks = [1, 0.1, 0.01, 0.001, 0.0001, 0.00001];
var yTickLabels = ["1", "0.1", "0.01", "0.001", "0.0001", "0.00001"];

// note: "top" is taken by window.top, so plot edges get their own names
var plotLeft = 163, plotRight = 1325, plotTop = 70, plotBottom = 975;
var gridColor = "#d9d9d9", axisColor = "#bfbfbf";

var x = d3.scaleLinear().domain([200, 300]).range([plotLeft, plotRight]);
var y = d3.scaleLog().domain([1e-5, 1]).range([plotBottom, plotTop]);

var svg = d3.select("#chart");

// gridlines
svg.append("g").selectAll("line")
    .data(xTicks.slice(1))
    .enter().append("line")
    .attr("x1", d => x(d)).attr("x2", d => x(d))
    .attr("y1", plotTop).attr("y2", plotBottom)
    .attr("stroke", gridColor).attr("stroke-width", 2);

svg.append("g").selectAll("line")
    .data(yTicks.slice(1))
    .enter().append("line")
    .attr("x1", plotLeft).attr("x2", plotRight)
    .attr("y1", d => y(d)).attr("y2", d => y(d))
    .attr("stroke", gridColor).attr("stroke-width", 2);

// axes lines + minor ticks
svg.append("line")
    .attr("x1", plotLeft).attr("x2", plotRight).attr("y1", plotTop).attr("y2", plotTop)
    .attr("stroke", axisColor).attr("stroke-width", 3);
svg.append("line")
    .attr("x1", plotLeft).attr("x2", plotLeft).attr("y1", plotTop).attr("y2", plotBottom)
    .attr("stroke", axisColor).attr("stroke-width", 3);

var xMinor = d3.range(202, 300, 2).filter(d => d % 10 != 0);
svg.append("g").selectAll("line")
    .data(xMinor)
    .enter().append("line")
    .attr("x1", d => x(d)).attr("x2", d => x(d))
    .attr("y1", plotTop).attr("y2", plotTop + 7)
    .attr("stroke", axisColor).attr("stroke-width", 2);

var yMinor = y.ticks().filter(d => Math.abs(Math.log10(d) - Math.round(Math.log10(d))) > 1e-6);
svg.append("g").selectAll("line")
    .data(yMinor)
    .enter().append("line")
    .attr("x1", plotLeft).attr("x2", plotLeft + 7)
    .attr("y1", d => y(d)).attr("y2", d => y(d))
    .attr("stroke", axisColor).attr("stroke-width", 2);

// tick labels
svg.append("g").selectAll("text")
    .data(xTicks)
    .enter().append("text")
    .attr("transform", d => "translate(" + x(d) + "," + (plotTop + 18) + ") rotate(-90)")
    .attr("text-anchor", "end")
    .attr("dy", "0.36em")
    .style("font-size", "27px")
    .text(d => d);

svg.append("g").selectAll("text")
    .data(yTicks)
    .enter().append("text")
    .attr("x", 132)
    .attr("y", d => y(d))
    .attr("dy", "0.34em")
    .attr("text-anchor", "end")
    .style("font-size", "27px")
    .style("letter-spacing", "1px")
    .text((d, i) => yTickLabels[i]);

// axis titles
svg.append("text")
    .attr("x", 688).attr("y", 38)
    .attr("text-anchor", "middle")
    .style("font-size", "29px")
    .text("Wavelength (nm)");

svg.append("text")
    .attr("transform", "translate(35,485) rotate(-90)")
    .attr("text-anchor", "middle")
    .style("font-size", "29px")
    .text("Normalized Spectral Irradiance");

// markers (a bit bigger than the legend ones, like the original)
var circle = d3.symbol(d3.symbolCircle, 200);
var square = d3.symbol(d3.symbolSquare, 215);
var triangle = d3.symbol(d3.symbolTriangle, 100);
var diamond = d3.symbol(d3.symbolSquare, 80);

function drawSeries(data, sym, color, rot) {
    svg.append("g").selectAll("path")
        .data(data)
        .enter().append("path")
        .attr("d", sym)
        .attr("transform", d => "translate(" + x(d[0]) + "," + y(d[1]) + ")" + (rot ? " rotate(45)" : ""))
        .attr("fill", color);
}

drawSeries(krclLamp, circle, "#5b9bd5");
drawSeries(krclFiltered, square, "#ff0000");
drawSeries(lpHgLamp, triangle, "#000000");
drawSeries(krbrFiltered, diamond, "#70ad47", true);

// legend
svg.append("rect")
    .attr("x", 995).attr("y", 228).attr("width", 302).attr("height", 186)
    .attr("fill", "#fff");

var legendSyms = [d3.symbol(d3.symbolCircle, 110), d3.symbol(d3.symbolSquare, 130), d3.symbol(d3.symbolTriangle, 55), d3.symbol(d3.symbolSquare, 50)];
var legendColors = ["#5b9bd5", "#ff0000", "#000000", "#70ad47"];

seriesNames.forEach((name, i) => {
    let ly = 251 + i * 46;
    svg.append("path")
        .attr("d", legendSyms[i])
        .attr("transform", "translate(1015," + ly + ")" + (i == 3 ? " rotate(45)" : ""))
        .attr("fill", legendColors[i]);
    svg.append("text")
        .attr("x", 1030).attr("y", ly)
        .attr("dy", "0.36em")
        .style("font-size", "26px")
        .text(name);
});
</script>
</body>
</html>
